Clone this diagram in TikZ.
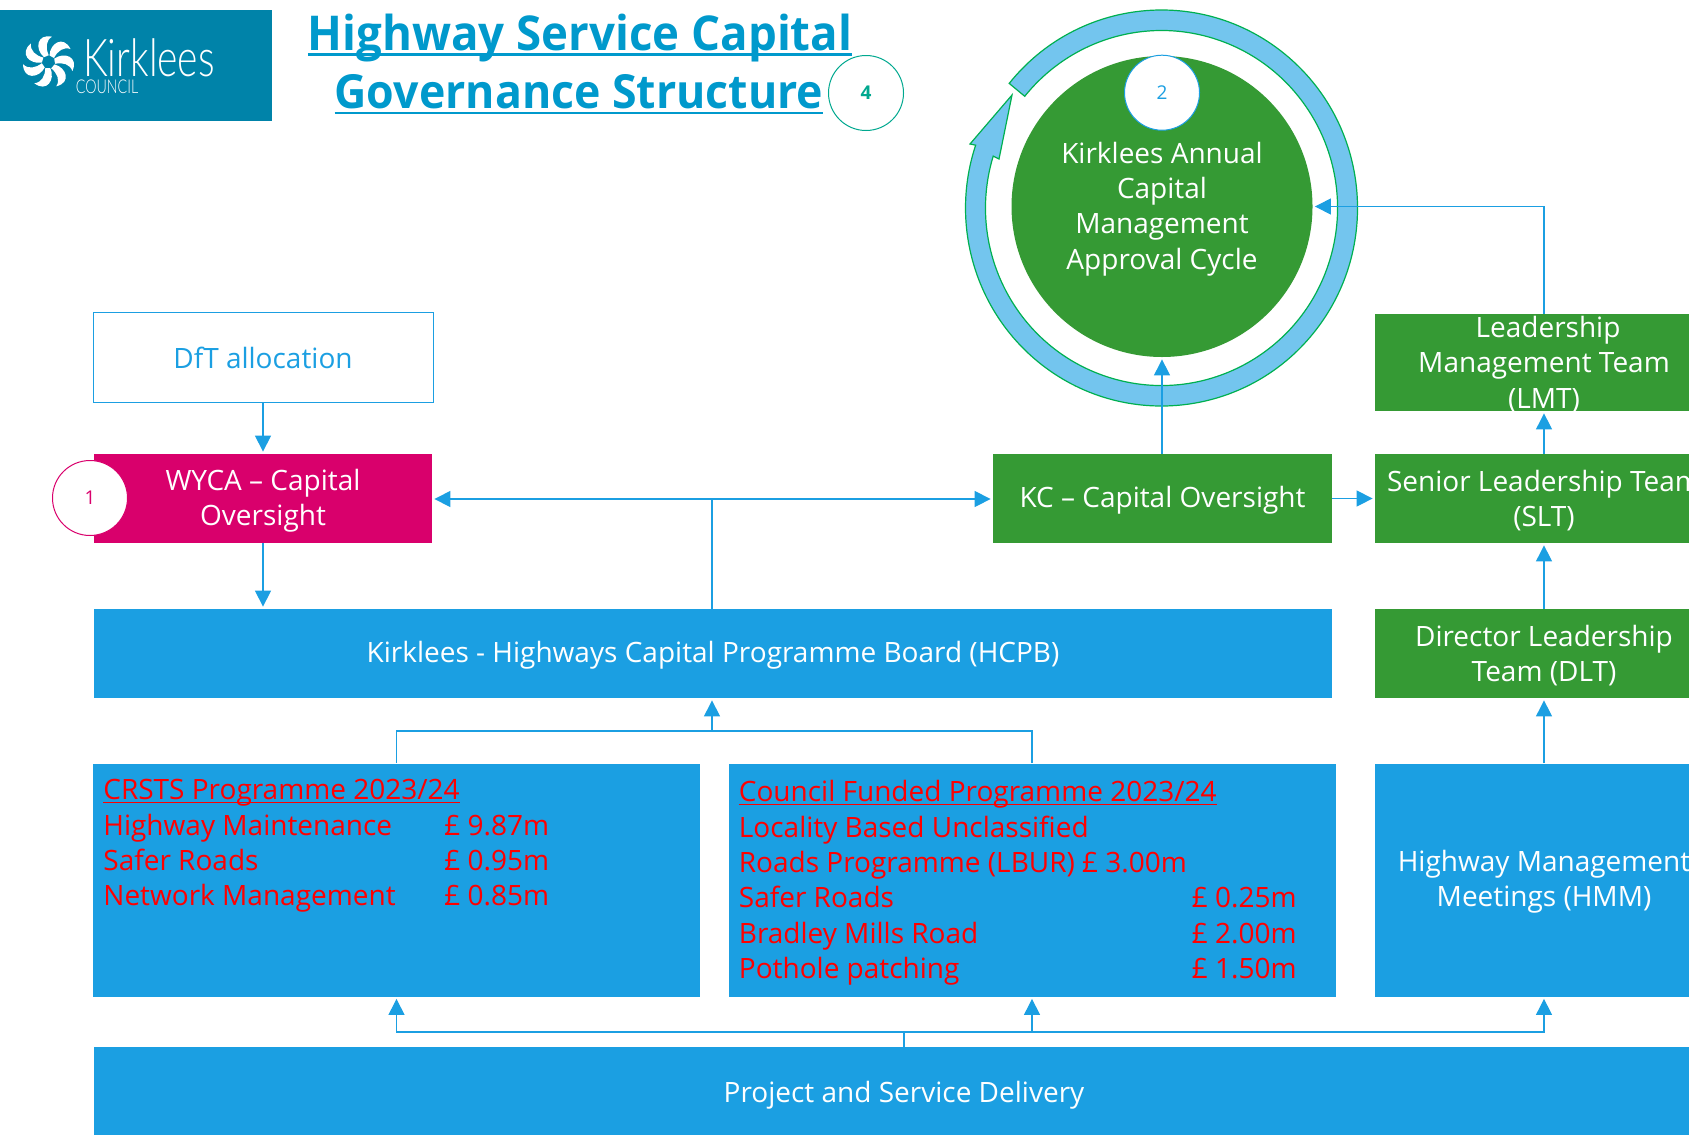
\documentclass[tikz,border=0pt]{standalone}
\usepackage{fontspec}
\usetikzlibrary{arrows.meta}
\setmainfont{Open Sans}
\newfontfamily\logofont[FakeStretch=0.75]{Lato Light}
\newfontfamily\titlefont[BoldFeatures={FakeStretch=0.95}]{Open Sans}
\definecolor{hwblue}{HTML}{1B9FE2}
\definecolor{hwgreen}{HTML}{359A34}
\definecolor{hwpink}{HTML}{D9006C}
\definecolor{hwteal}{HTML}{0083A9}
\definecolor{hwtitle}{HTML}{0099CC}
\definecolor{hwring}{HTML}{73C5EE}
\definecolor{hwedge}{HTML}{00B050}
\definecolor{hwnum}{HTML}{00A88F}
\newlength{\ulwd}
\newcommand{\ultext}[3]{\settowidth{\ulwd}{#3}\rlap{#3}\rule[-#2]{\ulwd}{#1}}
\newcommand{\amtrow}[3]{\makebox[#1][l]{#2}£ #3}
\tikzset{
	bluebox/.style={fill=hwblue,inner sep=0pt},
	greenbox/.style={bluebox,fill=hwgreen},
	boxtext/.style={text=white,inner sep=0pt,yshift=-1pt,align=center,font=\fontsize{14}{17.7}\selectfont},
	link/.style={draw=hwblue,line width=0.6pt},
	arrowlink/.style={link,-{Triangle[length=8pt,width=8pt]},shorten >=1pt},
	numcircle/.style={circle,draw,fill=white,line width=0.5pt,minimum size=37.5pt,inner sep=0pt,font=\fontsize{9.5}{11}\selectfont},
	listtext/.style={text=red,inner sep=0pt,anchor=north west,align=left,font=\fontsize{14}{17.7}\selectfont},
	headline/.style={text=hwtitle,inner sep=0pt,font=\fontsize{24}{28}\titlefont\bfseries\selectfont},
}
\begin{document}
\begin{tikzpicture}[x=0.5pt,y=0.5pt,yscale=-1,xscale=1]
	\useasboundingbox (0,0) rectangle (1689,1135);

	%logo
	\fill[hwteal] (0,10) rectangle (272,121);
	\foreach \a in {0,51.4,...,350}{
		\fill[white,shift={(48.5,62)},rotate=\a] (1,-6.5) .. controls (1.5,-19) and (15,-27) .. (22,-13) .. controls (15,-15.5) and (9,-11) .. (5.5,-4) -- cycle;
	}
	\node[text=white,inner sep=0pt,font=\fontsize{26}{28}\logofont\selectfont] (logoname) at (149,58) {Kirklees};
	\node[text=white,inner sep=0pt,font=\fontsize{9.5}{10}\logofont\selectfont] (logocouncil) at (107,87) {COUNCIL};

	%title
	\node[headline] (titlea) at (580,38.3) {\ultext{1.4pt}{2.5pt}{Highway Service Capital}};
	\node[headline,font=\fontsize{23.5}{28}\titlefont\bfseries\selectfont] (titleb) at (579,94.3) {\ultext{1.4pt}{3pt}{Governance Structure}};
	\node[numcircle,draw=hwnum,text=hwnum,font=\fontsize{9.5}{11}\bfseries\selectfont] (numfour) at (866,93) {4};

	%cycle
	\draw[fill=hwring,draw=hwedge,line width=0.6pt] (1161.5,208) ++(-141:196 and 198) arc (-141:198.5:196 and 198) -- (970,144) -- (1012,95) -- (999,159) -- (993.2,156.1) arc (197:-141:176 and 177.5) -- cycle;
	\node[circle,fill=hwgreen,inner sep=0pt,minimum size=150.5pt] (cycle) at (1162,206.5) {};
	\node[boxtext] (cycletext) at (1162,207) {Kirklees Annual\\Capital\\Management\\Approval Cycle};
	\node[numcircle,draw=hwblue,text=hwblue] (numtwo) at (1162,92.7) {2};

	%boxes
	\node[draw=hwblue,fill=white,text=hwblue,inner sep=0pt,line width=0.5pt,minimum width=170pt,minimum height=45pt,font=\fontsize{14}{17.7}\selectfont] (dft) at (263,357.5) {DfT allocation};
	\node[bluebox,fill=hwpink,minimum width=169pt,minimum height=44.5pt] (wyca) at (263,498.5) {};
	\node[boxtext] (wycatext) at (wyca) {WYCA -- Capital\\Oversight};
	\node[numcircle,draw=hwpink,text=hwpink] (numone) at (90,498) {1};
	\node[greenbox,minimum width=169.5pt,minimum height=44.5pt] (kc) at (1162.5,498.5) {};
	\node[boxtext] (kctext) at (kc) {KC -- Capital Oversight};
	\node[greenbox,minimum width=169pt,minimum height=48.5pt] (lmt) at (1544,362.5) {};
	\node[boxtext] (lmttext) at (lmt) {\hspace*{4pt}Leadership\\Management Team\\(LMT)};
	\node[greenbox,minimum width=169pt,minimum height=44.5pt] (slt) at (1544,498.5) {};
	\node[boxtext] (slttext) at (slt) {Senior Leadership Team\\(SLT)};
	\node[greenbox,minimum width=169pt,minimum height=44.5pt] (dlt) at (1544,653.5) {};
	\node[boxtext] (dlttext) at (dlt) {Director Leadership\\Team (DLT)};
	\node[bluebox,minimum width=619pt,minimum height=44.5pt] (hcpb) at (713,653.5) {};
	\node[boxtext] (hcpbtext) at (hcpb) {Kirklees - Highways Capital Programme Board (HCPB)};
	\node[bluebox,minimum width=303.5pt,minimum height=116.5pt] (crsts) at (396.5,880) {};
	\node[bluebox,minimum width=303.5pt,minimum height=116.5pt] (council) at (1032,880) {};
	\node[bluebox,minimum width=169pt,minimum height=116.5pt] (hmm) at (1544,880) {};
	\node[boxtext] (hmmtext) at (hmm) {Highway Management\\Meetings (HMM)};
	\node[bluebox,minimum width=810pt,minimum height=44pt] (psd) at (904,1091) {};
	\node[boxtext,yshift=-1pt] (psdtext) at (psd) {Project and Service Delivery};

	%programme lists
	\node[listtext] (crststext) at (103,779) {\ultext{0.5pt}{1.5pt}{CRSTS Programme 2023/24}\\\amtrow{170.5pt}{Highway Maintenance}{9.87m}\\\amtrow{170.5pt}{Safer Roads}{0.95m}\\\amtrow{170.5pt}{Network Management}{0.85m}};
	\node[listtext] (counciltext) at (738.5,780) {\ultext{0.5pt}{1.5pt}{Council Funded Programme 2023/24}\\Locality Based Unclassified\\Roads Programme (LBUR) £ 3.00m\\\amtrow{226.5pt}{Safer Roads}{0.25m}\\\amtrow{226.5pt}{Bradley Mills Road}{2.00m}\\\amtrow{226.5pt}{Pothole patching}{1.50m}};

	%connectors
	\coordinate (topjoin) at (712,499);
	\coordinate (midjoin) at (712,731);
	\coordinate (lowjoin) at (904,1032);
	\draw[arrowlink] (dft) -- (wyca);
	\draw[arrowlink] (wyca) -- (wyca.south |- hcpb.north);
	\draw[link] (hcpb.north -| topjoin) -- (topjoin);
	\draw[arrowlink] (topjoin) -- (wyca.east |- topjoin);
	\draw[arrowlink] (topjoin) -- (kc.west |- topjoin);
	\draw[arrowlink] (kc.north -| cycle) -- (cycle);
	\draw[arrowlink] (kc.east |- slt) -- (slt);
	\draw[arrowlink] (slt) -- (lmt);
	\draw[arrowlink] (dlt) -- (slt);
	\draw[arrowlink] (hmm) -- (dlt);
	\draw[arrowlink] (lmt.north) |- (cycle.east);
	\draw[link] (crsts.north) |- (midjoin);
	\draw[link] (council.north) |- (midjoin);
	\draw[arrowlink] (midjoin) -- (hcpb.south -| midjoin);
	\draw[link] (psd.north) -- (lowjoin);
	\draw[arrowlink] (lowjoin) -| (crsts.south);
	\draw[arrowlink] (lowjoin) -| (council.south);
	\draw[arrowlink] (lowjoin) -| (hmm.south);
\end{tikzpicture}
\end{document}
